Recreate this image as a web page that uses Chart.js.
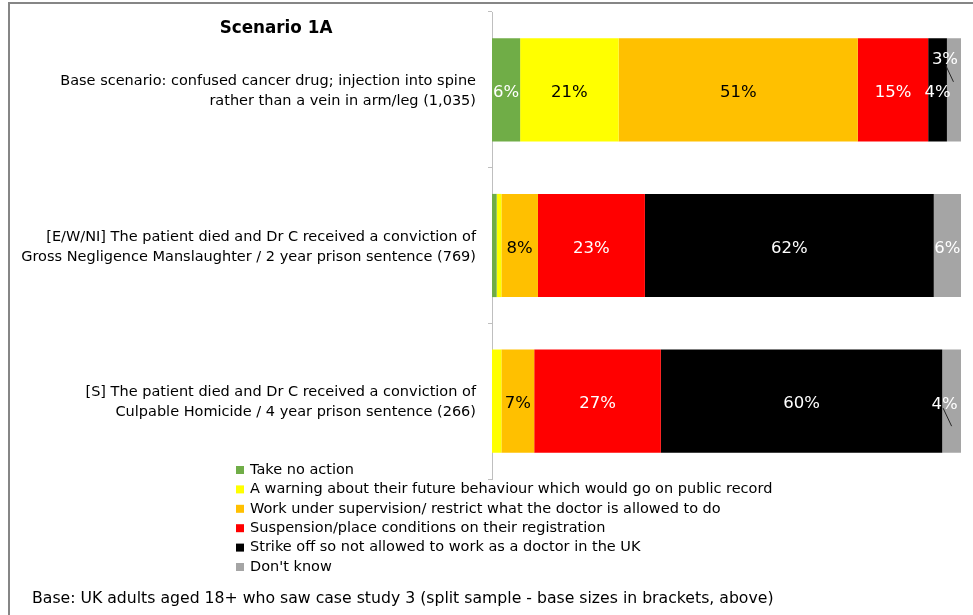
<!DOCTYPE html>
<html>
<head>
<meta charset="utf-8">
<script src="https://cdn.jsdelivr.net/npm/chart.js@4.4.1/dist/chart.umd.min.js"></script>
<style>
  html, body { margin: 0; padding: 0; background: #fff; }
</style>
</head>
<body>
<canvas id="chart" width="973" height="615"></canvas>
<script>
const categories = [
  ['Base scenario: confused cancer drug; injection into spine', 'rather than a vein in arm/leg (1,035)'],
  ['[E/W/NI] The patient died and Dr C received a conviction of', 'Gross Negligence Manslaughter / 2 year prison sentence (769)'],
  ['[S] The patient died and Dr C received a conviction of', 'Culpable Homicide / 4 year prison sentence (266)']
];
const seriesNames = [
  'Take no action',
  'A warning about their future behaviour which would go on public record',
  'Work under supervision/ restrict what the doctor is allowed to do',
  'Suspension/place conditions on their registration',
  'Strike off so not allowed to work as a doctor in the UK',
  "Don't know"
];
const takeNoAction = [6, 1.0, 0];
const warning      = [21, 1.0, 2];
const supervision  = [51, 7.8, 7];
const suspension   = [15, 22.8, 27];
const strikeOff    = [4, 61.6, 60];
const dontKnow     = [3, 5.8, 4];

const colors = ['#70AD47', '#FFFF00', '#FFC000', '#FF0000', '#000000', '#A5A5A5'];
const labelColors = ['#fff', '#000', '#000', '#fff', '#fff', '#fff'];
const FONT = '"DejaVu Sans", sans-serif';

// labels that Excel moved out of a thin segment, with a leader line
// [labelDx, labelDy, lineX1, lineY1, lineX2, lineY2] relative to bar centre
const callouts = {
  '5-0': [-9, -33, -8, -24, -0.5, -8],
  '5-2': [-7, 0.5, -8.5, 7, 0, 25]
};

const allSeries = [takeNoAction, warning, supervision, suspension, strikeOff, dontKnow];

const frame = {
  id: 'frame',
  beforeDraw(chart) {
    const ctx = chart.ctx;
    ctx.save();
    ctx.fillStyle = '#fff';
    ctx.fillRect(0, 0, chart.width, chart.height);
    ctx.strokeStyle = '#868686';
    ctx.lineWidth = 2;
    ctx.strokeRect(9, 3, chart.width + 20, chart.height + 20);
    ctx.restore();
  }
};

const extras = {
  id: 'extras',
  afterDraw(chart) {
    const ctx = chart.ctx;
    ctx.save();
    // title
    ctx.fillStyle = '#000';
    ctx.font = 'bold 16.8px ' + FONT;
    ctx.textAlign = 'center';
    ctx.textBaseline = 'middle';
    ctx.fillText('Scenario 1A', 276, 29);

    // legend
    ctx.font = '14.5px ' + FONT;
    ctx.textAlign = 'left';
    chart.data.datasets.forEach((ds, i) => {
      const y = 470 + i * 19.4;
      ctx.fillStyle = ds.backgroundColor;
      ctx.fillRect(236, y - 4, 8, 8);
      ctx.fillStyle = '#000';
      ctx.fillText(ds.label, 250, y);
    });

    // base note
    ctx.font = '15.7px ' + FONT;
    ctx.fillText('Base: UK adults aged 18+ who saw case study 3 (split sample - base sizes in brackets, above)', 32, 599);
    ctx.restore();
  }
};

const valueLabels = {
  id: 'valueLabels',
  afterDatasetsDraw(chart) {
    const ctx = chart.ctx;
    ctx.save();
    ctx.font = '16.5px ' + FONT;
    ctx.textAlign = 'center';
    ctx.textBaseline = 'middle';
    chart.data.datasets.forEach((ds, i) => {
      chart.getDatasetMeta(i).data.forEach((bar, j) => {
        const v = ds.data[j];
        if (v < 3) return;
        const cx = (bar.x + bar.base) / 2;
        const cy = bar.y;
        const c = callouts[i + '-' + j];
        let lx = cx, ly = cy;
        if (c) {
          lx = cx + c[0];
          ly = cy + c[1];
          ctx.strokeStyle = '#262626';
          ctx.lineWidth = 1;
          ctx.beginPath();
          ctx.moveTo(cx + c[2], cy + c[3]);
          ctx.lineTo(cx + c[4], cy + c[5]);
          ctx.stroke();
        }
        ctx.fillStyle = labelColors[i];
        ctx.fillText(Math.round(v) + '%', lx, ly + 3);
      });
    });
    ctx.restore();
  }
};

new Chart(document.getElementById('chart').getContext('2d'), {
  type: 'bar',
  data: {
    labels: categories,
    datasets: allSeries.map((d, i) => ({
      label: seriesNames[i],
      data: d,
      backgroundColor: colors[i],
      borderWidth: 0,
      categoryPercentage: 1,
      barPercentage: 0.663
    }))
  },
  options: {
    indexAxis: 'y',
    responsive: false,
    animation: false,
    devicePixelRatio: 1,
    layout: { padding: { left: 0, top: 12, right: 12, bottom: 136 } },
    scales: {
      x: { stacked: true, min: 0, max: 100, display: false },
      y: {
        stacked: true,
        grid: { drawOnChartArea: false, drawTicks: true, tickLength: 4, color: '#bfbfbf', offset: true },
        border: { color: '#bfbfbf', width: 1 },
        ticks: {
          color: '#000',
          padding: 12,
          labelOffset: 1.5,
          font: { family: FONT, size: 14.5, lineHeight: 20 / 14.5 }
        },
        afterFit(scale) {
          scale.width = 492;
          scale.paddingTop = 0;
          scale.paddingBottom = 0;
        }
      }
    },
    plugins: {
      legend: { display: false },
      title: { display: false },
      tooltip: { enabled: false }
    }
  },
  plugins: [frame, valueLabels, extras]
});
</script>
</body>
</html>
